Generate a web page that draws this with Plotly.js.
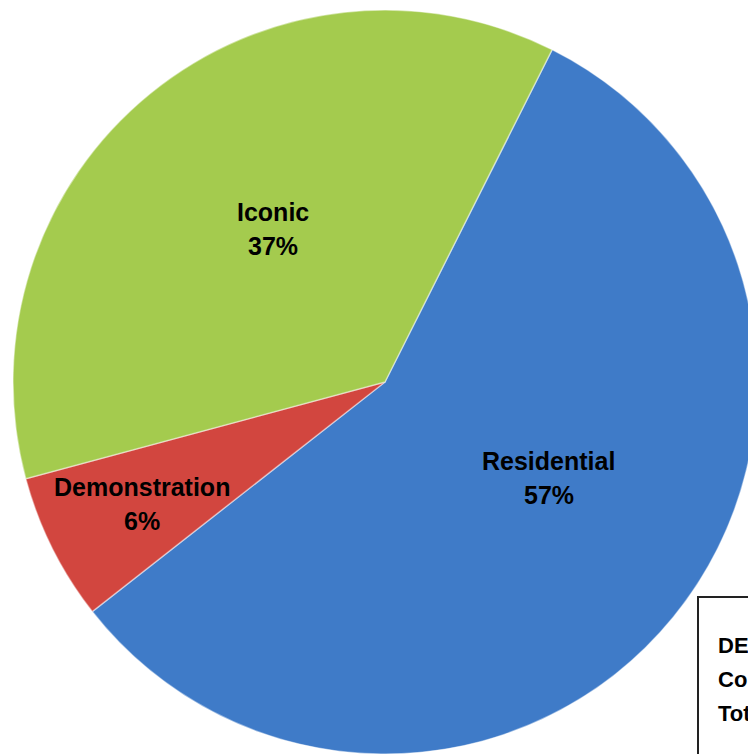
<!DOCTYPE html>
<html>
<head>
<meta charset="utf-8">
<script src="https://cdn.plot.ly/plotly-3.0.1.min.js"></script>
<style>
  html, body { margin: 0; padding: 0; overflow: hidden; background: #fff; width: 748px; height: 754px; }
  #chart { width: 800px; height: 800px; }
</style>
</head>
<body>
<div id="chart"></div>
<script>
// ---- data ----
const categories = ['Residential', 'Demonstration', 'Iconic'];
const shares = [57.0, 6.4, 36.6];
const sliceColors = ['#3F7BC8', '#D2463F', '#A4CB4E'];
const boxLines = ['DECC Funding', 'Committed', 'Total'];

// ---- layout constants (pixels of an 800x800 canvas, clipped by window) ----
const W = 800, H = 800;
const cx = 385, cy = 382, R = 372;
const startAngle = 26.7;              // degrees clockwise from 12 o'clock
const labelRadial = [0.51, 0.73, 0.51];
const labelShift = [-9, 0, 3];
const lineGap = 34;
const labelFont = { family: 'Liberation Sans, Arial, sans-serif', size: 25, color: '#000' };

const total = shares.reduce((a, b) => a + b, 0);
const annotations = [];
let acc = startAngle;
shares.forEach((v, i) => {
  const span = v / total * 360;
  const mid = (acc + span / 2 + labelShift[i]) * Math.PI / 180;
  acc += span;
  const px = cx + labelRadial[i] * R * Math.sin(mid);
  const py = cy - labelRadial[i] * R * Math.cos(mid);
  const lines = [categories[i], Math.round(v / total * 100) + '%'];
  lines.forEach((t, k) => {
    annotations.push({
      xref: 'paper', yref: 'paper',
      x: px / W, y: 1 - (py + (k - 0.5) * lineGap) / H,
      xanchor: 'center', yanchor: 'middle',
      showarrow: false,
      text: '<b>' + t + '</b>',
      font: labelFont
    });
  });
});

boxLines.forEach((t, k) => {
  annotations.push({
    xref: 'paper', yref: 'paper',
    x: 716 / W, y: 1 - (645 + k * 34) / H,
    xanchor: 'left', yanchor: 'middle', align: 'left',
    showarrow: false,
    text: '<b>' + t + '</b>',
    font: { family: 'Liberation Sans, Arial, sans-serif', size: 22, color: '#000' }
  });
});

const trace = {
  type: 'pie',
  labels: categories,
  values: shares,
  sort: false,
  direction: 'clockwise',
  rotation: startAngle,
  textinfo: 'none',
  hoverinfo: 'label+percent',
  marker: { colors: sliceColors, line: { color: 'rgba(255,255,255,0.45)', width: 1.5 } },
  domain: { x: [(cx - R) / W, (cx + R) / W], y: [1 - (cy + R) / H, 1 - (cy - R) / H] },
  showlegend: false
};

const layout = {
  width: W, height: H,
  margin: { l: 0, r: 0, t: 0, b: 0 },
  paper_bgcolor: '#ffffff',
  showlegend: false,
  annotations: annotations,
  shapes: [{
    type: 'rect', xref: 'paper', yref: 'paper',
    x0: 698 / W, x1: 1.2, y0: 1 - 597 / H, y1: -0.2,
    line: { color: '#222', width: 2 }, fillcolor: 'rgba(255,255,255,1)', layer: 'above'
  }]
};

Plotly.newPlot('chart', [trace], layout, { displayModeBar: false, staticPlot: true });
</script>
</body>
</html>
